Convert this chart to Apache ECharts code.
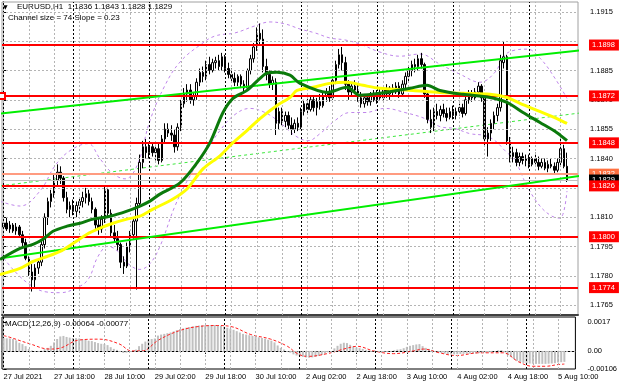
<!DOCTYPE html>
<html><head><meta charset="utf-8">
<script src="https://cdn.jsdelivr.net/npm/echarts@6/dist/echarts.min.js"></script>
<style>html,body{margin:0;padding:0;background:#fff}#c{width:620px;height:388px}</style>
</head><body><div id="c"></div>
<script>
// ---------- DATA ----------
const timeLabels = ['27 Jul 2021','27 Jul 18:00','28 Jul 10:00','29 Jul 02:00','29 Jul 18:00','30 Jul 10:00','2 Aug 02:00','2 Aug 18:00','3 Aug 10:00','4 Aug 02:00','4 Aug 18:00','5 Aug 10:00'];
const timeLabelIdx = [0,16,32,48,64,80,96,112,128,144,160,176];
const dayStartIdx = [22,46,70,94,118,142,166];

const opens = [1.1805,1.1807,1.1804,1.1806,1.1803,1.1805,1.1801,1.1797,1.1789,1.1782,
1.1778,1.1784,1.1787,1.1796,1.1810,1.1818,1.1822,1.1829,1.1833,1.1830,
1.1820,1.1814,1.1816,1.1813,1.1816,1.1818,1.1820,1.1822,1.1818,1.1814,
1.1806,1.1804,1.1809,1.1824,1.1812,1.1802,1.1799,1.1796,1.1787,1.1785,
1.1795,1.1801,1.1808,1.1817,1.1838,1.1846,1.1843,1.1846,1.1843,1.1845,
1.1839,1.1850,1.1855,1.1853,1.1852,1.1846,1.1856,1.1868,1.1873,1.1875,
1.1870,1.1872,1.1879,1.1884,1.1882,1.1888,1.1885,1.1889,1.1890,1.1887,
1.1892,1.1886,1.1883,1.1881,1.1879,1.1882,1.1878,1.1876,1.1885,1.1891,
1.1897,1.1904,1.1901,1.1887,1.1883,1.1878,1.1879,1.1858,1.1864,1.1859,
1.1862,1.1857,1.1855,1.1858,1.1856,1.1864,1.1868,1.1865,1.1870,1.1866,
1.1869,1.1867,1.1872,1.1874,1.1871,1.1880,1.1888,1.1893,1.1889,1.1878,
1.1874,1.1877,1.1875,1.1871,1.1868,1.1871,1.1869,1.1872,1.1870,1.1873,
1.1871,1.1875,1.1873,1.1876,1.1874,1.1877,1.1873,1.1878,1.1882,1.1885,
1.1888,1.1887,1.1891,1.1888,1.1873,1.1860,1.1856,1.1864,1.1862,1.1865,
1.1863,1.1861,1.1864,1.1862,1.1864,1.1866,1.1863,1.1870,1.1873,1.1871,
1.1874,1.1877,1.1871,1.1850,1.1853,1.1858,1.1862,1.1866,1.1889,1.1892,
1.1849,1.1841,1.1843,1.1838,1.1841,1.1839,1.1840,1.1837,1.1840,1.1838,
1.1836,1.1838,1.1835,1.1837,1.1836,1.1834,1.1838,1.1845,1.1836];
const highs = [1.1809,1.1810,1.1808,1.1807,1.1807,1.1806,1.1803,1.1799,1.1790,1.1786,
1.1786,1.1789,1.1798,1.1812,1.1820,1.1824,1.1832,1.1837,1.1836,1.1831,
1.1823,1.1818,1.1819,1.1818,1.1820,1.1823,1.1825,1.1824,1.1820,1.1815,
1.1810,1.1811,1.1826,1.1825,1.1814,1.1806,1.1803,1.1797,1.1790,1.1797,
1.1803,1.1810,1.1820,1.1842,1.1849,1.1850,1.1848,1.1848,1.1847,1.1848,
1.1852,1.1858,1.1858,1.1857,1.1855,1.1858,1.1870,1.1876,1.1878,1.1878,
1.1874,1.1881,1.1886,1.1887,1.1890,1.1892,1.1891,1.1892,1.1893,1.1894,
1.1893,1.1889,1.1886,1.1884,1.1883,1.1883,1.1880,1.1886,1.1893,1.1899,
1.1907,1.1909,1.1906,1.1891,1.1885,1.1882,1.1881,1.1866,1.1866,1.1864,
1.1864,1.1861,1.1860,1.1861,1.1866,1.1870,1.1871,1.1872,1.1872,1.1871,
1.1873,1.1874,1.1876,1.1877,1.1882,1.1890,1.1896,1.1897,1.1892,1.1880,
1.1879,1.1880,1.1878,1.1874,1.1873,1.1873,1.1874,1.1875,1.1875,1.1876,
1.1877,1.1878,1.1877,1.1878,1.1879,1.1879,1.1880,1.1884,1.1887,1.1890,
1.1891,1.1893,1.1894,1.1889,1.1874,1.1865,1.1866,1.1868,1.1867,1.1868,
1.1866,1.1866,1.1867,1.1866,1.1868,1.1868,1.1872,1.1875,1.1875,1.1876,
1.1879,1.1878,1.1872,1.1856,1.1860,1.1864,1.1868,1.1893,1.1900,1.1893,
1.1851,1.1846,1.1845,1.1843,1.1843,1.1842,1.1842,1.1841,1.1843,1.1841,
1.1840,1.1840,1.1839,1.1840,1.1838,1.1840,1.1850,1.1847,1.1843];
const lows = [1.1801,1.1803,1.1802,1.1802,1.1801,1.1800,1.1795,1.1788,1.1780,1.1772,
1.1774,1.1781,1.1785,1.1794,1.1806,1.1815,1.1820,1.1826,1.1827,1.1818,
1.1812,1.1810,1.1811,1.1810,1.1812,1.1815,1.1817,1.1816,1.1812,1.1804,
1.1801,1.1802,1.1807,1.1810,1.1800,1.1797,1.1793,1.1784,1.1781,1.1784,
1.1792,1.1799,1.1773,1.1815,1.1835,1.1840,1.1840,1.1841,1.1839,1.1837,
1.1838,1.1848,1.1851,1.1849,1.1843,1.1844,1.1854,1.1866,1.1869,1.1868,
1.1867,1.1870,1.1877,1.1879,1.1880,1.1883,1.1884,1.1886,1.1885,1.1885,
1.1884,1.1881,1.1879,1.1877,1.1877,1.1876,1.1874,1.1875,1.1883,1.1889,
1.1895,1.1898,1.1884,1.1880,1.1876,1.1875,1.1852,1.1855,1.1857,1.1856,
1.1855,1.1852,1.1853,1.1854,1.1855,1.1862,1.1863,1.1864,1.1864,1.1862,
1.1865,1.1866,1.1869,1.1869,1.1870,1.1878,1.1886,1.1885,1.1875,1.1870,
1.1872,1.1873,1.1869,1.1866,1.1866,1.1867,1.1867,1.1869,1.1868,1.1870,
1.1869,1.1871,1.1870,1.1872,1.1873,1.1871,1.1872,1.1876,1.1879,1.1882,
1.1884,1.1885,1.1886,1.1871,1.1858,1.1853,1.1854,1.1860,1.1859,1.1861,
1.1859,1.1860,1.1860,1.1860,1.1862,1.1861,1.1862,1.1868,1.1869,1.1870,
1.1872,1.1869,1.1846,1.1841,1.1849,1.1855,1.1859,1.1864,1.1886,1.1847,
1.1838,1.1838,1.1836,1.1836,1.1837,1.1836,1.1835,1.1836,1.1837,1.1834,
1.1835,1.1834,1.1833,1.1835,1.1832,1.1833,1.1836,1.1835,1.1828];
const closes = [1.1807,1.1804,1.1806,1.1803,1.1805,1.1801,1.1797,1.1789,1.1782,1.1778,
1.1784,1.1787,1.1796,1.1810,1.1818,1.1822,1.1829,1.1833,1.1830,1.1820,
1.1814,1.1816,1.1813,1.1816,1.1818,1.1820,1.1822,1.1818,1.1814,1.1806,
1.1804,1.1809,1.1824,1.1812,1.1802,1.1799,1.1796,1.1787,1.1785,1.1795,
1.1801,1.1808,1.1817,1.1838,1.1846,1.1843,1.1846,1.1843,1.1845,1.1839,
1.1850,1.1855,1.1853,1.1852,1.1846,1.1856,1.1868,1.1873,1.1875,1.1870,
1.1872,1.1879,1.1884,1.1882,1.1888,1.1885,1.1889,1.1890,1.1887,1.1892,
1.1886,1.1883,1.1881,1.1879,1.1882,1.1878,1.1876,1.1885,1.1891,1.1897,
1.1904,1.1901,1.1887,1.1883,1.1878,1.1880,1.1858,1.1864,1.1859,1.1862,
1.1857,1.1855,1.1858,1.1856,1.1864,1.1868,1.1865,1.1870,1.1866,1.1869,
1.1867,1.1872,1.1874,1.1871,1.1880,1.1888,1.1893,1.1889,1.1878,1.1874,
1.1877,1.1875,1.1871,1.1868,1.1871,1.1869,1.1872,1.1870,1.1873,1.1871,
1.1875,1.1873,1.1876,1.1874,1.1877,1.1873,1.1878,1.1882,1.1885,1.1888,
1.1887,1.1891,1.1888,1.1873,1.1860,1.1856,1.1864,1.1862,1.1865,1.1863,
1.1861,1.1864,1.1862,1.1864,1.1866,1.1863,1.1870,1.1873,1.1871,1.1874,
1.1877,1.1871,1.1850,1.1853,1.1858,1.1862,1.1866,1.1890,1.1892,1.1849,
1.1841,1.1843,1.1838,1.1841,1.1839,1.1840,1.1837,1.1840,1.1838,1.1836,
1.1838,1.1835,1.1837,1.1836,1.1834,1.1838,1.1845,1.1836,1.1829];

const maFast = [[-1.13,1.17884],[5.19,1.17941],[9.30,1.17961],[12.45,1.17987],[15.61,1.18028],[20.04,1.18054],[24.15,1.18069],[28.25,1.18090],[33.62,1.18105],[39.0,1.18131],[43.1,1.18157],[46.26,1.18182],[49.42,1.18218],[55.74,1.18275],[61.11,1.18378],[65.22,1.18481],[69.33,1.18635],[72.49,1.18707],[76.91,1.18748],[81.02,1.18810],[83.23,1.18836],[86.39,1.18841],[90.5,1.18826],[93.66,1.18784],[102.19,1.18738],[108.5,1.18764],[112.61,1.18723],[118.93,1.18733],[128.41,1.18759],[133.78,1.18774],[137.89,1.18748],[145.16,1.18728],[153.69,1.18712],[159.06,1.18687],[164.12,1.18635],[169.49,1.18584],[174.86,1.18532],[178.02,1.18491]];
const maSlow = [[-1.13,1.17807],[5.19,1.17838],[9.30,1.17874],[13.72,1.17899],[17.83,1.17925],[21.93,1.17966],[26.36,1.18013],[30.46,1.18044],[34.57,1.18069],[39.0,1.18090],[43.1,1.18105],[47.21,1.18141],[53.53,1.18193],[57.95,1.18244],[63.0,1.18347],[68.38,1.18414],[72.49,1.18481],[76.91,1.18543],[81.02,1.18604],[86.39,1.18671],[90.5,1.18712],[92.71,1.18748],[97.77,1.18764],[103.13,1.18784],[108.5,1.18790],[113.56,1.18774],[118.93,1.18759],[129.36,1.18748],[137.89,1.18738],[145.16,1.18733],[153.69,1.18728],[159.06,1.18712],[163.17,1.18682],[168.54,1.18646],[174.86,1.18604],[178.02,1.18579]];
const bandUpper = [[-1.13,1.18182],[5.19,1.18157],[11.51,1.18234],[16.25,1.18363],[20.99,1.18440],[26.67,1.18476],[30.46,1.18399],[34.25,1.18327],[38.36,1.18296],[42.15,1.18363],[46.26,1.18594],[51.0,1.18774],[55.74,1.18893],[62.06,1.18980],[66.8,1.19026],[73.12,1.19042],[79.44,1.19078],[84.18,1.19098],[88.92,1.19088],[93.66,1.19062],[98.4,1.19042],[103.13,1.19016],[107.88,1.19006],[112.61,1.18985],[118.93,1.18944],[125.25,1.18923],[131.57,1.18934],[137.89,1.18882],[144.21,1.18831],[150.53,1.18790],[155.27,1.18841],[158.43,1.18929],[161.59,1.18954],[165.38,1.18959],[169.49,1.18913],[174.22,1.18810],[178.02,1.18707]];
const bandLower = [[-1.13,1.17915],[3.61,1.17822],[8.35,1.17755],[13.09,1.17719],[17.83,1.17714],[22.57,1.17735],[26.67,1.17781],[29.83,1.17899],[32.99,1.17951],[36.15,1.17925],[39.31,1.17863],[43.1,1.17833],[46.26,1.17863],[49.42,1.17951],[54.16,1.18157],[58.9,1.18311],[63.64,1.18429],[68.38,1.18543],[73.12,1.18625],[77.86,1.18656],[82.6,1.18635],[87.34,1.18584],[92.08,1.18517],[96.19,1.18491],[99.98,1.18527],[104.72,1.18594],[109.46,1.18635],[114.2,1.18635],[120.51,1.18656],[126.83,1.18635],[133.15,1.18604],[137.89,1.18563],[142.63,1.18553],[147.37,1.18527],[152.11,1.18517],[155.27,1.18491],[158.43,1.18440],[161.59,1.18388],[165.38,1.18260],[169.49,1.18157],[173.28,1.18105],[175.8,1.18095],[178.02,1.18234]];
const channelUpper = [[-1.13,1.18630],[184.3,1.18957]];
const channelMiddle = [[-1.13,1.18260],[184.3,1.18637]];
const channelLower = [[-1.13,1.17889],[184.3,1.18316]];

const levelPrices = [1.1898,1.1872,1.1848,1.1826,1.1800,1.1774];
const entryPrice = 1.1832;
const bidPrice = 1.1829;
const priceTicks = [1.1765,1.1780,1.1795,1.1810,1.1825,1.1840,1.1855,1.1870,1.1885,1.1915];
const priceGrid = [1.1765,1.1780,1.1795,1.1810,1.1825,1.1840,1.1855,1.1870,1.1885,1.1900,1.1915];

const macdHist = [0.00075,0.00074,0.00073,0.00070,0.00062,0.00048,0.00040,0.00028,0.00012,0.00003,
-0.00002,-0.00004,0.00002,0.00010,0.00018,0.00030,0.00050,0.00070,0.00085,0.00088,
0.00082,0.00078,0.00076,0.00075,0.00073,0.00068,0.00064,0.00060,0.00058,0.00052,
0.00046,0.00042,0.00040,0.00034,0.00022,0.00012,0.00006,-0.00006,-0.00012,-0.00010,
-0.00004,0.00000,0.00008,0.00028,0.00042,0.00055,0.00065,0.00070,0.00073,0.00090,
0.00096,0.00100,0.00104,0.00108,0.00115,0.00122,0.00128,0.00132,0.00136,0.00140,
0.00144,0.00147,0.00149,0.00150,0.00151,0.00152,0.00152,0.00152,0.00150,0.00148,
0.00142,0.00136,0.00130,0.00124,0.00116,0.00108,0.00100,0.00096,0.00092,0.00088,
0.00084,0.00080,0.00076,0.00072,0.00066,0.00060,0.00050,0.00032,0.00018,0.00008,
0.00000,-0.00010,-0.00020,-0.00027,-0.00032,-0.00035,-0.00038,-0.00040,-0.00038,-0.00035,
-0.00030,-0.00024,-0.00016,-0.00008,0.00000,0.00015,0.00030,0.00042,0.00048,0.00046,
0.00036,0.00026,0.00020,0.00016,0.00012,0.00006,0.00002,-0.00003,-0.00005,-0.00006,
-0.00005,-0.00004,-0.00003,-0.00001,0.00004,0.00008,0.00010,0.00016,0.00024,0.00030,
0.00034,0.00038,0.00040,0.00028,0.00018,0.00012,0.00006,0.00000,-0.00006,-0.00012,
-0.00016,-0.00019,-0.00020,-0.00020,-0.00019,-0.00018,-0.00017,-0.00017,-0.00016,-0.00016,
-0.00015,-0.00013,-0.00012,-0.00010,-0.00008,-0.00004,0.00000,0.00004,0.00005,-0.00008,
-0.00025,-0.00035,-0.00048,-0.00058,-0.00065,-0.00070,-0.00072,-0.00074,-0.00075,-0.00076,
-0.00076,-0.00076,-0.00076,-0.00075,-0.00074,-0.00072,-0.00068,-0.00066,-0.00064];
const macdSignal = [[0,0.00090],[2,0.00080],[8.3,0.00042],[14.6,0.00011],[17.8,0.00016],[24,0.00064],[30.3,0.00069],[36.6,0.00042],[40.7,0],[43.9,0],[49.2,0.00064],[55.5,0.00117],[61.8,0.00143],[68,0.00149],[72.2,0.00143],[78.5,0.00096],[84.8,0.00069],[90.1,0.00027],[93.3,-0.00016],[96.4,-0.00032],[102.7,-0.00016],[109,0.00016],[112.2,0.00027],[117.5,0],[123.8,-0.00016],[130.1,0],[133.3,0.00011],[138.3,-0.00011],[143.7,-0.00027],[151,-0.00011],[158.5,-0.00011],[163.5,-0.00064],[168,-0.00090],[172,-0.00090],[176,-0.00080],[178,-0.00077]];
const macdTicks = [-0.00106,0,0.0017];
const macdTickLabels = ['-0.00106','0.00','0.0017'];

// ---------- BUILD ----------
const N_CAT = 182;
const FONT = 'Liberation Sans';
const cats = [];
for (let i = 0; i < N_CAT; i++) cats.push('b' + i);
const candleData = opens.map((o, i) => [o, closes[i], lows[i], highs[i]]);
const labelAt = {};
timeLabelIdx.forEach((t, k) => { labelAt[t] = timeLabels[k]; });
const gridCols = [];
for (let i = 0; i <= 176; i += 8) gridCols.push(i);

const GRAY = '#b4b4b4';
function vLines(list, color, type) {
  return list.map(i => ({ xAxis: i, lineStyle: { color: color, type: type, width: 1 } }));
}
function levelSeries(values, color, width, bg, fg, z, startSym) {
  return {
    type: 'line', xAxisIndex: 2, yAxisIndex: 0, data: [], z: z, silent: true,
    markLine: {
      silent: true, animation: false, precision: 6,
      symbol: [startSym || 'none', 'none'], symbolSize: 6,
      data: values.map(v => ({ yAxis: v })),
      lineStyle: { color: color, width: width, type: 'solid' },
      label: { show: !!bg, position: 'end', distance: 11, formatter: p => Number(p.value).toFixed(4),
        backgroundColor: bg, color: fg, padding: [2, 4, 1, 3], fontSize: 7.5, fontFamily: FONT },
      emphasis: { disabled: true }
    }
  };
}
function overlay(data, color, width, type, z, smooth, clip) {
  return { type: 'line', xAxisIndex: 2, yAxisIndex: 0, data: data, showSymbol: false, smooth: smooth,
    clip: clip !== false, z: z, silent: true,
    lineStyle: { color: color, width: width, type: type } };
}

const option = {
  animation: false,
  backgroundColor: '#fff',
  textStyle: { fontFamily: FONT },
  grid: [
    { left: 2, right: 42, top: 2, height: 313, show: true, borderColor: '#a0a0a0', borderWidth: 1 },
    { left: 2, right: 42, top: 317, height: 52, show: true, borderColor: '#000', borderWidth: 1 }
  ],
  xAxis: [
    { type: 'category', gridIndex: 0, data: cats, boundaryGap: true,
      axisLine: { show: true, lineStyle: { color: '#404040', width: 2 } },
      axisTick: { show: false }, axisLabel: { show: false }, splitLine: { show: false } },
    { type: 'category', gridIndex: 1, data: cats, boundaryGap: true,
      axisLine: { show: true, lineStyle: { color: '#000', width: 1 } },
      axisTick: { show: true, alignWithLabel: true, length: 3, interval: (i) => labelAt[i] !== undefined, lineStyle: { color: '#000' } },
      axisLabel: { show: true, interval: (i) => labelAt[i] !== undefined, formatter: (v, i) => labelAt[i] || '',
        align: 'left', margin: 4, fontSize: 7.5, fontFamily: FONT, color: '#000' },
      splitLine: { show: false } },
    { type: 'value', gridIndex: 0, min: -0.5, max: N_CAT - 0.5, show: false },
    { type: 'value', gridIndex: 1, min: -0.5, max: N_CAT - 0.5, show: false }
  ],
  yAxis: [
    { type: 'value', gridIndex: 0, position: 'right', min: 1.1760, max: 1.1920,
      splitLine: { show: false },
      axisLine: { show: true, lineStyle: { color: '#000' } },
      axisTick: { show: true, customValues: priceTicks, length: 3, lineStyle: { color: '#000' } },
      axisLabel: { customValues: priceTicks, formatter: v => v.toFixed(4), fontSize: 7.5, fontFamily: FONT, color: '#000', margin: 12, align: 'left' } },
    { type: 'value', gridIndex: 1, position: 'right', min: -0.00106, max: 0.00199,
      splitLine: { show: false },
      axisLine: { show: true, lineStyle: { color: '#000' } },
      axisTick: { show: true, customValues: macdTicks, length: 3, lineStyle: { color: '#000' } },
      axisLabel: { customValues: macdTicks, fontSize: 7.5, fontFamily: FONT, color: '#000', margin: 12, align: 'left',
        formatter: v => { let k = 0; macdTicks.forEach((t, j) => { if (Math.abs(t - v) < Math.abs(macdTicks[k] - v)) k = j; }); return macdTickLabels[k]; } } }
  ],
  graphic: [
    { type: 'text', left: 3, top: 4, style: { text: '▼', font: '6px DejaVu Sans', fill: '#000' } },
    { type: 'text', left: 17, top: 3, style: { text: 'EURUSD,H1  1.1836 1.1843 1.1828 1.1829', font: '8px Liberation Sans', fill: '#000' } },
    { type: 'text', left: 8, top: 14, style: { text: 'Channel size = 74 Slope = 0.23', font: '8px Liberation Sans', fill: '#000' } },
    { type: 'text', left: 5, top: 320, style: { text: 'MACD(12,26,9) -0.00064 -0.00077', font: '8px Liberation Sans', fill: '#000' } }
  ],
  series: [
    // main grid lines
    { type: 'line', xAxisIndex: 2, yAxisIndex: 0, data: [], z: 1, silent: true,
      markLine: { silent: true, precision: 6, symbol: ['none', 'none'], label: { show: false }, emphasis: { disabled: true },
        data: priceGrid.map(v => ({ yAxis: v, lineStyle: { color: GRAY, type: [2, 2], width: 1 } }))
          .concat(vLines(gridCols, GRAY, [2, 2]))
          .concat(vLines(dayStartIdx, '#000', [2, 2])) } },
    overlay(bandUpper, '#bf86ea', 1, [3, 3], 2, 0.4),
    overlay(bandLower, '#bf86ea', 1, [3, 3], 2, 0.4),
    overlay(channelMiddle, '#3ee83e', 1, [3, 3], 3, false, false),
    { type: 'candlestick', xAxisIndex: 0, yAxisIndex: 0, data: candleData, barWidth: 2, z: 4, silent: true,
      itemStyle: { color: '#fff', color0: '#000', borderColor: '#000', borderColor0: '#000', borderWidth: 1 } },
    overlay(channelUpper, '#00ee00', 2, 'solid', 5, false, false),
    overlay(channelLower, '#00ee00', 2, 'solid', 5, false, false),
    overlay(maSlow, '#ffff00', 3, 'solid', 6, 0.3),
    overlay(maFast, '#0b7a0b', 3, 'solid', 7, 0.3),
    levelSeries([bidPrice], '#c0c0c0', 1, null, null, 8),
    levelSeries([entryPrice], '#ff9b80', 2, '#ff7040', '#fff', 9),
    levelSeries([bidPrice], '#c0c0c0', 0.01, '#000', '#fff', 10),
    levelSeries(levelPrices.filter(v => v !== 1.1872), '#ff0000', 2, '#ff0000', '#fff', 11),
    levelSeries([1.1872], '#ff0000', 2, '#ff0000', '#fff', 11, 'emptyRect'),
    // MACD panel
    { type: 'line', xAxisIndex: 3, yAxisIndex: 1, data: [], z: 1, silent: true,
      markLine: { silent: true, precision: 6, symbol: ['none', 'none'], label: { show: false }, emphasis: { disabled: true },
        data: [{ yAxis: 0, lineStyle: { color: GRAY, type: [2, 2], width: 1 } }]
          .concat(vLines(gridCols, GRAY, [2, 2]))
          .concat(vLines(dayStartIdx, '#000', [2, 2])) } },
    { type: 'bar', xAxisIndex: 1, yAxisIndex: 1, data: macdHist, barWidth: 2, z: 3, silent: true,
      itemStyle: { color: '#c0c0c0' } },
    { type: 'line', xAxisIndex: 3, yAxisIndex: 1, data: macdSignal, showSymbol: false, smooth: 0.4, z: 4, silent: true,
      lineStyle: { color: '#ff2020', width: 1, type: [3, 2] } }
  ]
};
const chart = echarts.init(document.getElementById('c'), null, { renderer: 'canvas' });
chart.setOption(option);
</script>
</body></html>
